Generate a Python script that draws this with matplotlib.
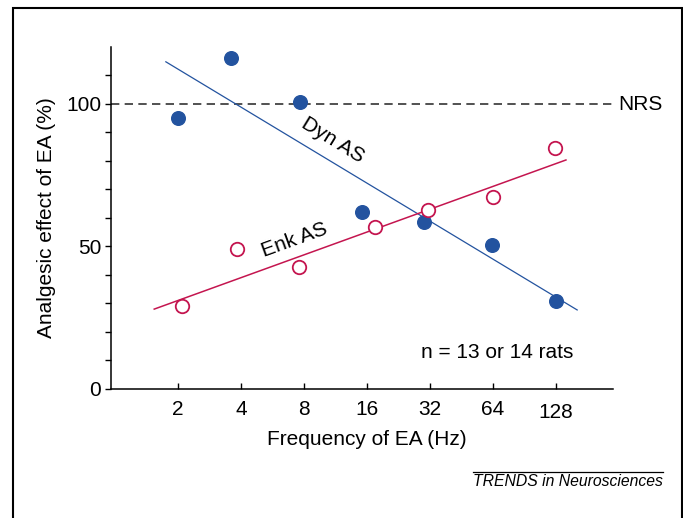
import matplotlib
matplotlib.use("Agg")
import matplotlib.pyplot as plt
import matplotlib.transforms as mtransforms
from matplotlib.patches import Rectangle
from matplotlib.lines import Line2D
import numpy as np

plt.rcParams['font.family'] = ['Liberation Sans', 'DejaVu Sans']

# Data
dyn_freq = [2.0, 3.57, 7.66, 15.2, 30.1, 63.2, 127.7]
dyn_effect = [94.9, 116.3, 100.7, 61.9, 58.6, 50.3, 30.8]
enk_freq = [2.08, 3.84, 7.6, 17.5, 31.2, 63.8, 126.6]
enk_effect = [29.1, 49.0, 42.8, 56.8, 62.7, 67.4, 84.6]

# Regression lines (end points)
dyn_fit_freq = [1.75, 161.8]
dyn_fit_effect = [114.8, 27.6]
enk_fit_freq = [1.54, 143.0]
enk_fit_effect = [27.9, 80.3]

xticks = [2, 4, 8, 16, 32, 64, 128]
xticklabels = ['2', '4', '8', '16', '32', '64', '128']
yticks_major = [0, 50, 100]
yticks_all = list(range(0, 111, 10))
nrs_level = 100

blue = '#23539f'
red = '#c4154f'

fig = plt.figure(figsize=(6.83, 5.18), dpi=100)
ax = fig.add_axes([111/683, 1-388.5/518, (613-111)/683, (388.5-47)/518])

ax.set_xscale('log', base=2)
ax.set_xlim(0.957, 240)
ax.set_ylim(0, 120)

ax.axhline(nrs_level, color='#333333', lw=1.2, dashes=(5, 3.2), zorder=1)
ax.plot(dyn_fit_freq, dyn_fit_effect, color=blue, lw=0.9, zorder=2)
ax.plot(enk_fit_freq, enk_fit_effect, color=red, lw=1.1, zorder=2)
ax.plot(dyn_freq, dyn_effect, 'o', color=blue, ms=9.8, mec=blue, zorder=3)
ax.plot(enk_freq, enk_effect, 'o', mfc='white', mec=red, mew=1.3, ms=9.7, zorder=3)

for s in ['top', 'right']:
    ax.spines[s].set_visible(False)
for s in ['left', 'bottom']:
    ax.spines[s].set_linewidth(1.1)

ax.set_xticks(xticks)
ax.set_xticklabels(xticklabels)
ax.xaxis.set_minor_locator(matplotlib.ticker.NullLocator())
ax.tick_params(axis='x', direction='in', length=4, width=1.0, pad=8, labelsize=15)
ax.set_yticks(yticks_all)
ax.set_yticklabels([str(v) if v in yticks_major else '' for v in yticks_all])
ax.tick_params(axis='y', direction='out', length=4.5, width=1.0, pad=2.5, labelsize=15)

# the "128" label sits a little lower in the original
lab = ax.get_xticklabels()[-1]
lab.set_transform(lab.get_transform() +
                  mtransforms.ScaledTranslation(0, -3/100, fig.dpi_scale_trans))

ax.set_xlabel('Frequency of EA (Hz)', fontsize=15)
ax.xaxis.set_label_coords(0.51, -0.148)
ax.xaxis.label.set_va('center')
ax.set_ylabel('Analgesic effect of EA (%)', fontsize=15)
ax.yaxis.set_label_coords(-0.1275, 0.5)
ax.yaxis.label.set_va('center')

# Annotations
fig.text(618/683, 1-104/518, 'NRS', fontsize=15, ha='left', va='center')
fig.text(333/683, 1-140/518, 'Dyn AS', fontsize=15, ha='center', va='center', rotation=-31.5)
fig.text(294/683, 1-240/518, 'Enk AS', fontsize=15, ha='center', va='center', rotation=20)
fig.text(573/683, 1-353/518, 'n = 13 or 14 rats', fontsize=15, ha='right', va='center')

fig.text(663/683, 1-482/518, 'TRENDS in Neurosciences', fontsize=11.3, style='italic',
         ha='right', va='center')
fig.add_artist(Line2D([473/683, 663/683], [1-471.5/518, 1-471.5/518], color='black', lw=0.9,
                      transform=fig.transFigure))

# Outer frame
fig.add_artist(Rectangle((12.5/683, -0.02), (681.5-12.5)/683, 1.02-7.5/518,
                         transform=fig.transFigure, fill=False, ec='black', lw=1.5))

fig.savefig('out.png', dpi=100)
